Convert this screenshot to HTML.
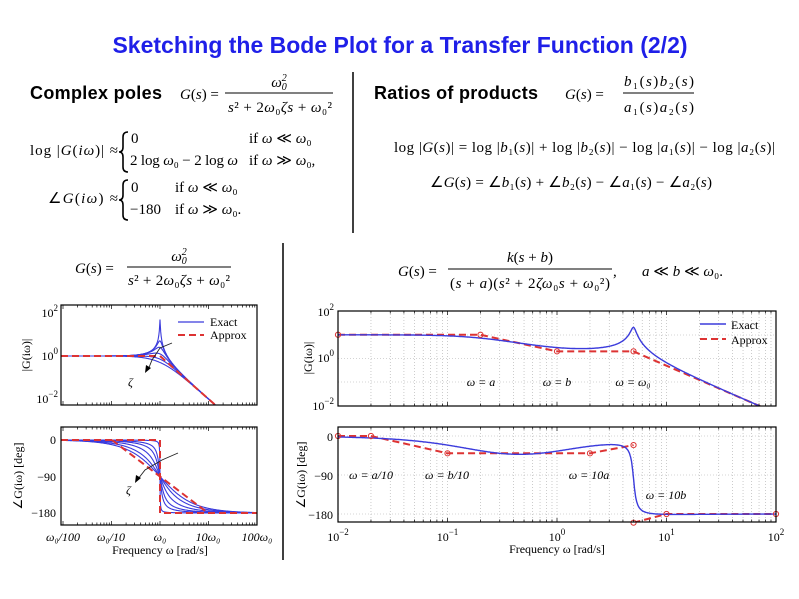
<!DOCTYPE html>
<html><head><meta charset="utf-8"><style>
body{margin:0;background:#fff;width:799px;height:599px;overflow:hidden}
svg{display:block}
.s{font-family:"Liberation Serif",serif;font-size:15px}
.i{font-style:italic}
.b{font-family:"Liberation Sans",sans-serif;font-weight:bold;font-size:18px}
.t{font-family:"Liberation Serif",serif;font-size:12px}
</style></head><body>
<svg id="g" width="799" height="599" xmlns="http://www.w3.org/2000/svg">
<text x="400" y="53" text-anchor="middle" font-family="Liberation Sans,sans-serif" font-weight="bold" font-size="23" fill="#1f1fe8">Sketching the Bode Plot for a Transfer Function (2/2)</text>
<text class="b" x="30" y="99" textLength="132">Complex poles</text>
<text class="b" x="374" y="99" textLength="164">Ratios of products</text>
<line x1="353" y1="72" x2="353" y2="233" stroke="#000" stroke-width="1.5"/>
<line x1="283" y1="243" x2="283" y2="560" stroke="#000" stroke-width="1.5"/>
<text class="s" x="180" y="99"><tspan class="i">G</tspan>(<tspan class="i">s</tspan>) =</text>
<line x1="225" y1="93" x2="333" y2="93" stroke="#000"/>
<text class="s i" x="279" y="87" text-anchor="middle">ω<tspan font-size="10" dy="3">0</tspan><tspan font-size="10" dx="-5" dy="-9">2</tspan></text>
<text class="s" x="228" y="112" textLength="104"><tspan class="i">s</tspan>² + 2<tspan class="i">ω</tspan>₀<tspan class="i">ζs</tspan> + <tspan class="i">ω</tspan>₀²</text>
<text class="s" x="30" y="155" textLength="88">log |<tspan class="i">G</tspan>(<tspan class="i">iω</tspan>)| ≈</text>
<path d="M128,132 Q123,132 123,137 L123,147 Q123,152 119,152 Q123,152 123,157 L123,167 Q123,172 128,172" fill="none" stroke="#000" stroke-width="1.6"/>
<text class="s" x="131" y="143">0</text>
<text class="s" x="249" y="143">if <tspan class="i">ω</tspan> ≪ <tspan class="i">ω</tspan>₀</text>
<text class="s" x="130" y="165" textLength="108">2 log <tspan class="i">ω</tspan>₀ − 2 log <tspan class="i">ω</tspan></text>
<text class="s" x="249" y="165">if <tspan class="i">ω</tspan> ≫ <tspan class="i">ω</tspan>₀,</text>
<text class="s" x="48" y="203" textLength="70">∠<tspan class="i">G</tspan>(<tspan class="i">iω</tspan>) ≈</text>
<path d="M128,180 Q123,180 123,185 L123,195 Q123,200 119,200 Q123,200 123,205 L123,215 Q123,220 128,220" fill="none" stroke="#000" stroke-width="1.6"/>
<text class="s" x="131" y="192">0</text>
<text class="s" x="175" y="192">if <tspan class="i">ω</tspan> ≪ <tspan class="i">ω</tspan>₀</text>
<text class="s" x="130" y="214">−180</text>
<text class="s" x="175" y="214">if <tspan class="i">ω</tspan> ≫ <tspan class="i">ω</tspan>₀.</text>
<text class="s" x="565" y="99"><tspan class="i">G</tspan>(<tspan class="i">s</tspan>) =</text>
<line x1="623" y1="93" x2="694" y2="93" stroke="#000"/>
<text class="s" x="624" y="86" textLength="70"><tspan class="i">b</tspan>₁(<tspan class="i">s</tspan>)<tspan class="i">b</tspan>₂(<tspan class="i">s</tspan>)</text>
<text class="s" x="624" y="112" textLength="70"><tspan class="i">a</tspan>₁(<tspan class="i">s</tspan>)<tspan class="i">a</tspan>₂(<tspan class="i">s</tspan>)</text>
<text class="s" x="394" y="152" textLength="381">log |<tspan class="i">G</tspan>(<tspan class="i">s</tspan>)| = log |<tspan class="i">b</tspan>₁(<tspan class="i">s</tspan>)| + log |<tspan class="i">b</tspan>₂(<tspan class="i">s</tspan>)| − log |<tspan class="i">a</tspan>₁(<tspan class="i">s</tspan>)| − log |<tspan class="i">a</tspan>₂(<tspan class="i">s</tspan>)|</text>
<text class="s" x="430" y="187" textLength="282">∠<tspan class="i">G</tspan>(<tspan class="i">s</tspan>) = ∠<tspan class="i">b</tspan>₁(<tspan class="i">s</tspan>) + ∠<tspan class="i">b</tspan>₂(<tspan class="i">s</tspan>) − ∠<tspan class="i">a</tspan>₁(<tspan class="i">s</tspan>) − ∠<tspan class="i">a</tspan>₂(<tspan class="i">s</tspan>)</text>
<text class="s" x="75" y="273"><tspan class="i">G</tspan>(<tspan class="i">s</tspan>) =</text>
<line x1="127" y1="267" x2="231" y2="267" stroke="#000"/>
<text class="s i" x="179" y="261" text-anchor="middle">ω<tspan font-size="10" dy="3">0</tspan><tspan font-size="10" dx="-5" dy="-9">2</tspan></text>
<text class="s" x="128" y="285" textLength="102"><tspan class="i">s</tspan>² + 2<tspan class="i">ω</tspan>₀<tspan class="i">ζs</tspan> + <tspan class="i">ω</tspan>₀²</text>
<text class="s" x="398" y="276"><tspan class="i">G</tspan>(<tspan class="i">s</tspan>) =</text>
<line x1="448" y1="269" x2="612" y2="269" stroke="#000"/>
<text class="s" x="530" y="262" text-anchor="middle"><tspan class="i">k</tspan>(<tspan class="i">s</tspan> + <tspan class="i">b</tspan>)</text>
<text class="s" x="450" y="288" textLength="160">(<tspan class="i">s</tspan> + <tspan class="i">a</tspan>)(<tspan class="i">s</tspan>² + 2<tspan class="i">ζω</tspan>₀<tspan class="i">s</tspan> + <tspan class="i">ω</tspan>₀²)</text>
<text class="s" x="613" y="276">,</text>
<text class="s" x="642" y="276" textLength="81"><tspan class="i">a</tspan> ≪ <tspan class="i">b</tspan> ≪ <tspan class="i">ω</tspan>₀.</text>
<g id="plots"></g>
</svg>
<script>
const NS="http://www.w3.org/2000/svg";const P=document.getElementById('plots');
function el(t,a,txt){const e=document.createElementNS(NS,t);for(const k in a)e.setAttribute(k,a[k]);if(txt!=null)e.textContent=txt;P.appendChild(e);return e;}
function path(pts,a){el('path',Object.assign({d:'M'+pts.map(p=>p[0].toFixed(1)+','+p[1].toFixed(1)).join('L'),fill:'none'},a));}
function clip(id,x,y,w,h){const c=el('clipPath',{id:id});const r=document.createElementNS(NS,'rect');r.setAttribute('x',x);r.setAttribute('y',y);r.setAttribute('width',w);r.setAttribute('height',h);c.appendChild(r);}
function cm(a,b){return[a[0]*b[0]-a[1]*b[1],a[0]*b[1]+a[1]*b[0]];}
function cd(a,b){const d=b[0]*b[0]+b[1]*b[1];return[(a[0]*b[0]+a[1]*b[1])/d,(a[1]*b[0]-a[0]*b[1])/d];}
const blue='#3b3bdc',red='#dd3333';
const LX=l=>160+48.5*l, X0=61;
const LYm=l=>356-21.5*l, LYp=d=>440-d*(73/180);
clip('c1',X0,305,257-X0,100);clip('c2',X0,427,257-X0,98);
const zs=[0.01,0.1,0.2,0.4,0.7,1.0];
for(const z of zs){let m=[],p=[];
 for(let l=-2.1;l<=2.01;l+=0.005){const w=Math.pow(10,l);const G=cd([1,0],[1-w*w,2*z*w]);
  m.push([LX(l),LYm(Math.log10(Math.hypot(G[0],G[1])))]);let ph=Math.atan2(G[1],G[0])*180/Math.PI;if(ph>1)ph-=360;p.push([LX(l),LYp(ph)]);}
 path(m,{stroke:blue,'stroke-width':1.1,'clip-path':'url(#c1)'});path(p,{stroke:blue,'stroke-width':1.1,'clip-path':'url(#c2)'});}
path([[X0,LYm(0)],[160,LYm(0)],[257,LYm(-4)]],{stroke:red,'stroke-width':2,'stroke-dasharray':'7,4','clip-path':'url(#c1)'});
path([[X0,LYp(0)],[160,LYp(0)],[160,LYp(-180)],[257,LYp(-180)]],{stroke:red,'stroke-width':2,'stroke-dasharray':'7,4','clip-path':'url(#c2)'});
path([[112,LYp(0)],[208,LYp(-180)]],{stroke:red,'stroke-width':2,'stroke-dasharray':'7,4','clip-path':'url(#c2)'});
for(const [y0,h] of [[305,100],[427,98]]){el('rect',{x:X0,y:y0,width:257-X0,height:h,fill:'none',stroke:'#000','stroke-width':1.2});
 for(let d=-3;d<=2;d++)for(let k=1;k<10;k++){const x=LX(d+Math.log10(k));if(x<X0||x>257)continue;const L=k==1?4:2.5;
  el('line',{x1:x,y1:y0,x2:x,y2:y0+L,stroke:'#000','stroke-width':.7});el('line',{x1:x,y1:y0+h,x2:x,y2:y0+h-L,stroke:'#000','stroke-width':.7});}}
path([[172,343],[160,348],[152,360],[148,370]],{stroke:'#222','stroke-width':.9});el('path',{d:'M145,373 L146,365 L151,368Z',fill:'#000'});
el('text',{x:128,y:386,'class':'t i','font-size':14},'ζ');
path([[178,453],[162,460],[145,470],[138,479]],{stroke:'#222','stroke-width':.9});el('path',{d:'M135,483 L136,475 L141,478Z',fill:'#000'});
el('text',{x:126,y:494,'class':'t i','font-size':14},'ζ');
el('line',{x1:178,y1:322,x2:204,y2:322,stroke:blue,'stroke-width':1.2});el('text',{x:210,y:326,'class':'t','font-size':13},'Exact');
el('line',{x1:178,y1:335,x2:204,y2:335,stroke:red,'stroke-width':2,'stroke-dasharray':'7,4'});el('text',{x:210,y:339,'class':'t','font-size':13},'Approx');
function sup(x,y,b,e,anchor){const t=el('text',{x:x,y:y,'class':'t','text-anchor':anchor||'end','font-size':13});t.innerHTML=b+'<tspan font-size="9" dy="-6">'+e+'</tspan>';}
sup(58,317,'10','2');sup(58,360,'10','0');sup(58,403,'10','−2');
el('text',{x:56,y:444,'class':'t','text-anchor':'end','font-size':13},'0');
el('text',{x:56,y:481,'class':'t','text-anchor':'end','font-size':13},'−90');
el('text',{x:56,y:517,'class':'t','text-anchor':'end','font-size':13},'−180');
el('text',{x:30,y:355,'class':'t','font-size':12,'text-anchor':'middle',transform:'rotate(-90 30 355)'},'|G(iω)|');
el('text',{x:22,y:476,'class':'t','font-size':12,'text-anchor':'middle',transform:'rotate(-90 22 476)'},'∠G(iω) [deg]');
[['ω₀/100',63],['ω₀/10',111],['ω₀',160],['10ω₀',208],['100ω₀',257]].forEach(a=>el('text',{x:a[1],y:541,'class':'t i','font-size':13,'text-anchor':'middle'},a[0]));
el('text',{x:160,y:554,'class':'t','font-size':12,'text-anchor':'middle'},'Frequency ω [rad/s]');
const RX=l=>338+109.5*(l+2);
const RYm=l=>358.5-23.75*l, RYp=d=>436-d*(78/180);
clip('c3',338,311,438,95);clip('c4',338,427,438,95);
for(const [y0,h] of [[311,95],[427,95]]){
 for(let d=-2;d<2;d++)for(let k=1;k<10;k++){const x=RX(d+Math.log10(k));if(x<=338)continue;el('line',{x1:x,y1:y0,x2:x,y2:y0+h,stroke:'#aaa','stroke-width':.6,'stroke-dasharray':'1,2'});}}
for(const y of [335,358.5,382])el('line',{x1:338,y1:y,x2:776,y2:y,stroke:'#aaa','stroke-width':.6,'stroke-dasharray':'1,2'});
for(const d of [0,-90,-180])el('line',{x1:338,y1:RYp(d),x2:776,y2:RYp(d),stroke:'#aaa','stroke-width':.6,'stroke-dasharray':'1,2'});
const A=0.2,B=1,W0=5,Z=0.05,K=50;let m=[],p=[];
for(let l=-2;l<=2.001;l+=0.004){const w=Math.pow(10,l);const num=[K*B,K*w];const den=cm([A,w],[W0*W0-w*w,2*Z*W0*w]);const G=cd(num,den);
 m.push([RX(l),RYm(Math.log10(Math.hypot(G[0],G[1])))]);let ph=Math.atan2(G[1],G[0])*180/Math.PI;if(ph>5)ph-=360;p.push([RX(l),RYp(ph)]);}
const lg=Math.log10;
const am=[[-2,1],[lg(0.2),1],[0,lg(2)],[lg(5),lg(2)],[2,lg(2)-2*(2-lg(5))]].map(q=>[RX(q[0]),RYm(q[1])]);
path(am,{stroke:red,'stroke-width':2,'stroke-dasharray':'7,4','clip-path':'url(#c3)'});
path(m,{stroke:blue,'stroke-width':1.4,'clip-path':'url(#c3)'});
const ap1=[[-2,0],[lg(0.02),0],[-1,-40],[lg(2),-40],[lg(5),-21]].map(q=>[RX(q[0]),RYp(q[1])]);
const ap2=[[lg(5),-200],[1,-180],[2,-180]].map(q=>[RX(q[0]),RYp(q[1])]);
path(ap1,{stroke:red,'stroke-width':2,'stroke-dasharray':'7,4','clip-path':'url(#c4)'});
path(ap2,{stroke:red,'stroke-width':2,'stroke-dasharray':'7,4','clip-path':'url(#c4)'});
path(p,{stroke:blue,'stroke-width':1.4,'clip-path':'url(#c4)'});
[...am.slice(0,4),...ap1,...ap2].forEach(q=>el('circle',{cx:q[0],cy:q[1],r:2.6,fill:'none',stroke:red,'stroke-width':1}));
for(const [y0,h] of [[311,95],[427,95]]){el('rect',{x:338,y:y0,width:438,height:h,fill:'none',stroke:'#000','stroke-width':1.2});
 for(let d=-2;d<2;d++)for(let k=1;k<10;k++){const x=RX(d+Math.log10(k));const L=k==1?4:2.5;
  el('line',{x1:x,y1:y0,x2:x,y2:y0+L,stroke:'#000','stroke-width':.7});el('line',{x1:x,y1:y0+h,x2:x,y2:y0+h-L,stroke:'#000','stroke-width':.7});}}
el('line',{x1:700,y1:324,x2:726,y2:324,stroke:blue,'stroke-width':1.4});el('text',{x:731,y:329,'class':'t','font-size':13},'Exact');
el('line',{x1:700,y1:339,x2:726,y2:339,stroke:red,'stroke-width':2,'stroke-dasharray':'7,4'});el('text',{x:731,y:344,'class':'t','font-size':13},'Approx');
sup(334,316,'10','2');sup(334,362,'10','0');sup(334,410,'10','−2');
el('text',{x:333,y:441,'class':'t','text-anchor':'end','font-size':13},'0');
el('text',{x:333,y:480,'class':'t','text-anchor':'end','font-size':13},'−90');
el('text',{x:333,y:519,'class':'t','text-anchor':'end','font-size':13},'−180');
el('text',{x:312,y:358,'class':'t','font-size':12,'text-anchor':'middle',transform:'rotate(-90 312 358)'},'|G(iω)|');
el('text',{x:305,y:475,'class':'t','font-size':12,'text-anchor':'middle',transform:'rotate(-90 305 475)'},'∠G(iω) [deg]');
for(let d=-2;d<=2;d++){const t=el('text',{x:RX(d),y:541,'class':'t','text-anchor':'middle','font-size':13});t.innerHTML='10<tspan font-size="9" dy="-6">'+(d<0?'−'+(-d):d)+'</tspan>';}
el('text',{x:557,y:553,'class':'t','font-size':12,'text-anchor':'middle'},'Frequency ω [rad/s]');
[['ω = a',481,386],['ω = b',557,386],['ω = ω₀',633,386],['ω = a/10',371,479],['ω = b/10',447,479],['ω = 10a',589,479],['ω = 10b',666,499]].forEach(a=>el('text',{x:a[1],y:a[2],'class':'t i','font-size':12,'text-anchor':'middle'},a[0]));
</script>
</body></html>
